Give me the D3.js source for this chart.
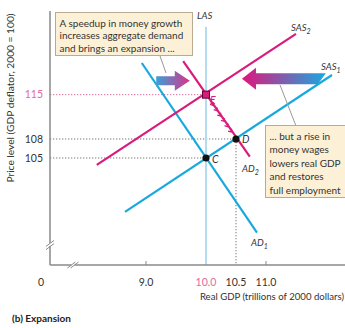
<!DOCTYPE html>
<html>
<head>
<meta charset="utf-8">
<script src="https://cdn.jsdelivr.net/npm/d3@7"></script>
<style>
  html, body { margin: 0; padding: 0; background: #fff; }
  svg { display: block; font-family: Lato, "Open Sans", sans-serif; }
</style>
</head>
<body>
<svg id="chart" width="345" height="328"></svg>
<script>
// Real GDP (trillions of 2000 dollars) and price level (GDP deflator)
const xTicks = [9.0, 10.0, 10.5, 11.0];
const xTickLabels = ["9.0", "10.0", "10.5", "11.0"];
const yTicks = [115, 108, 105];
const yTickLabels = ["115", "108", "105"];

// Curves as [realGDP, priceLevel] end points
const las = [[10.0, 125.7], [10.0, 88.1]];
const sas1 = [[8.65, 96.5], [12.1, 118.1]];
const sas2 = [[8.18, 103.9], [11.5, 124.6]];
const ad1 = [[8.93, 120.0], [10.85, 93.2]];
const ad2 = [[9.62, 120.3], [10.73, 105.2]];

// Equilibrium points
const pointC = [10.0, 105];
const pointD = [10.5, 108];
const pointE = [10.0, 115];

// Shift arrows: [from, to] in data units
const demandArrow = [[9.17, 117.2], [9.73, 117.2]];
const wageArrow = [[11.93, 117.5], [10.6, 117.5]];

const svg = d3.select("#chart");
const magenta = "#d81b7c";
const cyan = "#17a9dc";
const lasBlue = "#b3dcf0";
const axisGray = "#8a8a8a";
const pink = "#e26a9e";

const x = d3.scaleLinear().domain([7.4, 12.317]).range([50, 345]);
const y = d3.scaleLinear().domain([88.1, 128.37]).range([265, 10]);

const line = d3.line().x(d => x(d[0])).y(d => y(d[1]));

// Gradients for the shift arrows
const defs = svg.append("defs");
function grad(id, c1, c2) {
  const g = defs.append("linearGradient").attr("id", id)
    .attr("x1", "0%").attr("x2", "100%").attr("y1", "0%").attr("y2", "0%");
  g.append("stop").attr("offset", "0%").attr("stop-color", c1);
  g.append("stop").attr("offset", "100%").attr("stop-color", c2);
}
grad("gradRight", "#3d9fd8", "#d8338a");
grad("gradLeft", "#e0157c", "#1aa8e0");

// Guide lines
const guides = svg.append("g");
guides.append("line")
  .attr("x1", x(7.4)).attr("x2", x(pointE[0]))
  .attr("y1", y(pointE[1])).attr("y2", y(pointE[1]))
  .attr("stroke", pink).attr("stroke-width", 1).attr("stroke-dasharray", "1.3,1.7");
[pointD, pointC].forEach(p => {
  guides.append("line")
    .attr("x1", x(7.4)).attr("x2", x(p[0]))
    .attr("y1", y(p[1])).attr("y2", y(p[1]))
    .attr("stroke", "#777").attr("stroke-width", 1).attr("stroke-dasharray", "1.3,1.7");
});
guides.append("line")
  .attr("x1", x(pointD[0])).attr("x2", x(pointD[0]))
  .attr("y1", y(pointD[1])).attr("y2", y(88.1))
  .attr("stroke", "#777").attr("stroke-width", 1).attr("stroke-dasharray", "1.3,1.7");

// LAS
svg.append("path").attr("d", line(las)).attr("stroke", lasBlue)
  .attr("stroke-width", 2).attr("fill", "none");

// Curves
const curves = [
  [sas1, cyan], [ad1, cyan], [sas2, magenta], [ad2, magenta]
];
curves.forEach(([c, col]) => {
  svg.append("path").attr("d", line(c)).attr("stroke", col)
    .attr("stroke-width", 2.2).attr("fill", "none");
});

// Small arrowheads along AD2 from E to D
(function () {
  const x0 = x(pointE[0]), y0 = y(pointE[1]);
  const x1 = x(pointD[0]), y1 = y(pointD[1]);
  const ang = Math.atan2(y1 - y0, x1 - x0);
  const n = 6;
  for (let i = 1; i <= n; i++) {
    const t = 0.12 + i * 0.12;
    const px = x0 + (x1 - x0) * t, py = y0 + (y1 - y0) * t;
    const s = 3.2;
    const a1 = ang + Math.PI - 0.7, a2 = ang + Math.PI + 0.7;
    svg.append("path")
      .attr("d", `M${px + s * Math.cos(a1)},${py + s * Math.sin(a1)}L${px},${py}L${px + s * Math.cos(a2)},${py + s * Math.sin(a2)}`)
      .attr("stroke", magenta).attr("stroke-width", 1.3).attr("fill", "none");
  }
})();

// Shift arrows
function blockArrow(a, fillId, bodyH, headH, headL, slant) {
  const x0 = x(a[0][0]), x1 = x(a[1][0]), yc = y(a[0][1]);
  const dir = Math.sign(x1 - x0);
  const hb = x1 - dir * headL;
  const d = `M${x0 + slant},${yc - bodyH / 2}L${hb},${yc - bodyH / 2}L${hb},${yc - headH / 2}` +
    `L${x1},${yc}L${hb},${yc + headH / 2}L${hb},${yc + bodyH / 2}L${x0 - slant},${yc + bodyH / 2}Z`;
  svg.append("path").attr("d", d).attr("fill", `url(#${fillId})`);
}

// Leader lines from notes to arrows
svg.append("line").attr("x1", 160).attr("y1", 56).attr("x2", 166).attr("y2", 73)
  .attr("stroke", "#999").attr("stroke-width", 1);
svg.append("line").attr("x1", 280).attr("y1", 85).attr("x2", 296).attr("y2", 126)
  .attr("stroke", "#999").attr("stroke-width", 1);

blockArrow(demandArrow, "gradRight", 9, 20, 15, 0);
blockArrow(wageArrow, "gradLeft", 11, 22, 14, 4);

// Points
[pointC, pointD].forEach(p => {
  svg.append("circle").attr("cx", x(p[0])).attr("cy", y(p[1])).attr("r", 3.6).attr("fill", "#111");
});
svg.append("rect")
  .attr("x", x(pointE[0]) - 3.5).attr("y", y(pointE[1]) - 3.5)
  .attr("width", 7).attr("height", 7)
  .attr("fill", magenta).attr("stroke", "#5a0a30").attr("stroke-width", 1);

// Axes
const axes = svg.append("g").attr("stroke", axisGray).attr("stroke-width", 1.5).attr("fill", "none");
axes.append("line").attr("x1", 50).attr("x2", 50).attr("y1", 11).attr("y2", 265);
axes.append("line").attr("x1", 50).attr("x2", 345).attr("y1", 265).attr("y2", 265);

// Tick marks on the real GDP axis
[9.0, 11.0].forEach(v => {
  axes.append("line").attr("x1", x(v)).attr("x2", x(v)).attr("y1", 265).attr("y2", 261)
    .attr("stroke-width", 1);
});

// Axis breaks
function axisBreak(cx, cy, vertical) {
  const g = svg.append("g");
  if (vertical) {
    g.append("rect").attr("x", cx - 3).attr("y", cy - 2).attr("width", 6).attr("height", 3).attr("fill", "#fff");
    [-1.6, 1.6].forEach(o => g.append("line")
      .attr("x1", cx - 4).attr("y1", cy + 3 + o).attr("x2", cx + 4).attr("y2", cy - 3 + o)
      .attr("stroke", axisGray).attr("stroke-width", 1));
  } else {
    g.append("rect").attr("x", cx - 1.5).attr("y", cy - 3).attr("width", 3).attr("height", 6).attr("fill", "#fff");
    [-1.6, 1.6].forEach(o => g.append("line")
      .attr("x1", cx - 4 + o).attr("y1", cy + 3).attr("x2", cx + 4 + o).attr("y2", cy - 3)
      .attr("stroke", axisGray).attr("stroke-width", 1));
  }
}
axisBreak(50, 245, true);
axisBreak(73, 265, false);

// Tick labels
const txt = svg.append("g").attr("font-size", 10.5).attr("fill", "#333");
txt.append("text").attr("x", 41).attr("y", 286).attr("text-anchor", "middle").text("0");
xTicks.forEach((v, i) => {
  txt.append("text").attr("x", x(v)).attr("y", 286).attr("text-anchor", "middle")
    .attr("fill", v === 10.0 ? pink : "#333").text(xTickLabels[i]);
});
yTicks.forEach((v, i) => {
  txt.append("text").attr("x", 43).attr("y", y(v) + 3.8).attr("text-anchor", "end")
    .attr("fill", v === 115 ? pink : "#333").text(yTickLabels[i]);
});

// Axis titles
svg.append("text").attr("x", 344).attr("y", 300).attr("text-anchor", "end")
  .attr("font-size", 9.6).attr("fill", "#333").text("Real GDP (trillions of 2000 dollars)");
svg.append("text").attr("transform", "translate(14,98) rotate(-90)").attr("text-anchor", "middle")
  .attr("font-size", 10.2).attr("fill", "#333").text("Price level (GDP deflator, 2000 = 100)");

// Curve labels
function curveLabel(px, py, main, sub) {
  const t = svg.append("text").attr("x", px).attr("y", py).attr("font-size", 9.5)
    .attr("font-style", "italic").attr("fill", "#333");
  t.append("tspan").text(main);
  if (sub) t.append("tspan").attr("font-size", 7).attr("dy", 3).text(sub);
}
curveLabel(197, 19, "LAS");
curveLabel(291, 31, "SAS", "2");
curveLabel(321, 70, "SAS", "1");
curveLabel(242, 172, "AD", "2");
curveLabel(251, 246, "AD", "1");

// Point labels
const pl = svg.append("g").attr("font-size", 10.5).attr("font-style", "italic").attr("fill", "#333");
pl.append("text").attr("x", x(pointE[0]) + 4).attr("y", y(pointE[1]) + 9).attr("fill", magenta).text("E");
pl.append("text").attr("x", x(pointD[0]) + 6).attr("y", y(pointD[1]) + 4).text("D");
pl.append("text").attr("x", x(pointC[0]) + 6).attr("y", y(pointC[1]) + 5).text("C");

// Notes
function note(bx, by, bw, bh, lines, lh) {
  svg.append("rect").attr("x", bx).attr("y", by).attr("width", bw).attr("height", bh)
    .attr("fill", "#fcf1d6").attr("stroke", "#b9ab92").attr("stroke-width", 1);
  const t = svg.append("text").attr("font-size", 10).attr("fill", "#333");
  lines.forEach((l, i) => {
    t.append("tspan").attr("x", bx + 4).attr("y", by + 14 + i * lh).text(l);
  });
}
note(55.5, 12.5, 137, 43, ["A speedup in money growth", "increases aggregate demand", "and brings an expansion ..."], 12.5);
note(265.5, 125.5, 82, 72, ["... but a rise in", "money wages", "lowers real GDP", "and restores", "full employment"], 13.5);

// Panel caption
svg.append("text").attr("x", 12).attr("y", 322).attr("font-size", 10)
  .attr("font-weight", "bold").attr("fill", "#222").text("(b) Expansion");
</script>
</body>
</html>
